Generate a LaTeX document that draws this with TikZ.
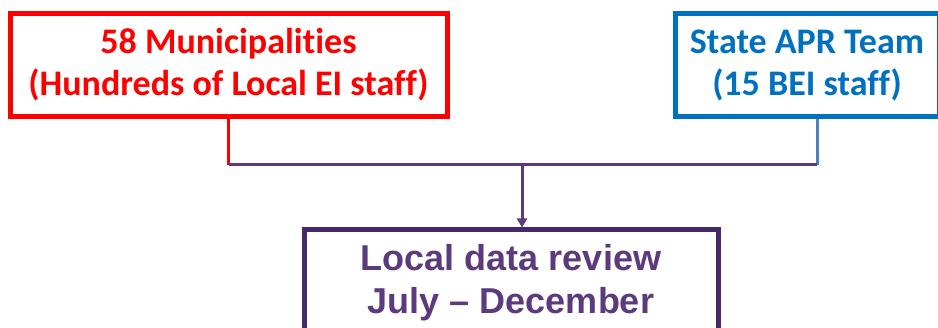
\documentclass[tikz,border=0pt]{standalone}
\usepackage{fontspec}
\usetikzlibrary{arrows.meta}
\newfontfamily\calfont[Ligatures=NoCommon]{Carlito}
\newfontfamily\arialfont{Liberation Sans}
\definecolor{muniRed}{HTML}{FF0000}
\definecolor{stateBlue}{HTML}{0070C0}
\definecolor{linkBlue}{HTML}{4F81BD}
\definecolor{reviewPurple}{HTML}{5C3A7E}
\definecolor{borderPurple}{HTML}{47296B}
\begin{document}
\begin{tikzpicture}[x=1pt,y=1pt,
    box/.style={draw, line width=5pt, align=center, inner sep=0pt},
    link/.style={line width=3pt}]
    \useasboundingbox (0,0) rectangle (938,327);
    \clip (0,0) rectangle (938,327);
    % top boxes
    \node[box, draw=muniRed, text=muniRed, minimum width=437pt, minimum height=103pt,
          font=\calfont\bfseries\fontsize{36}{42}\selectfont] (muni) at (228.5,262)
          {58 Municipalities\\(Hundreds of Local EI staff)};
    \node[box, draw=stateBlue, text=stateBlue, minimum width=264pt, minimum height=103pt,
          font=\calfont\bfseries\fontsize{36}{42}\selectfont] (apr) at (807,262)
          {State APR Team\\(15 BEI staff)};
    % bottom box
    \node[box, draw=borderPurple, text=reviewPurple, minimum width=414pt, minimum height=106pt,
          font=\arialfont\bfseries\fontsize{36}{43}\selectfont] (review) at (511,44)
          {Local data review\\July – December};
    % connectors
    \coordinate (join) at (522,162);
    \coordinate (aprfoot) at ([xshift=10pt]apr.south);
    \draw[link, muniRed] (muni.south) -- (muni.south |- join);
    \draw[link, linkBlue] (aprfoot) -- (aprfoot |- join);
    \draw[link, reviewPurple] (muni.south |- join) -- (aprfoot |- join);
    \draw[link, reviewPurple, -{Triangle[length=9pt,width=10pt]}] (join) -- (join |- review.north);
\end{tikzpicture}
\end{document}
